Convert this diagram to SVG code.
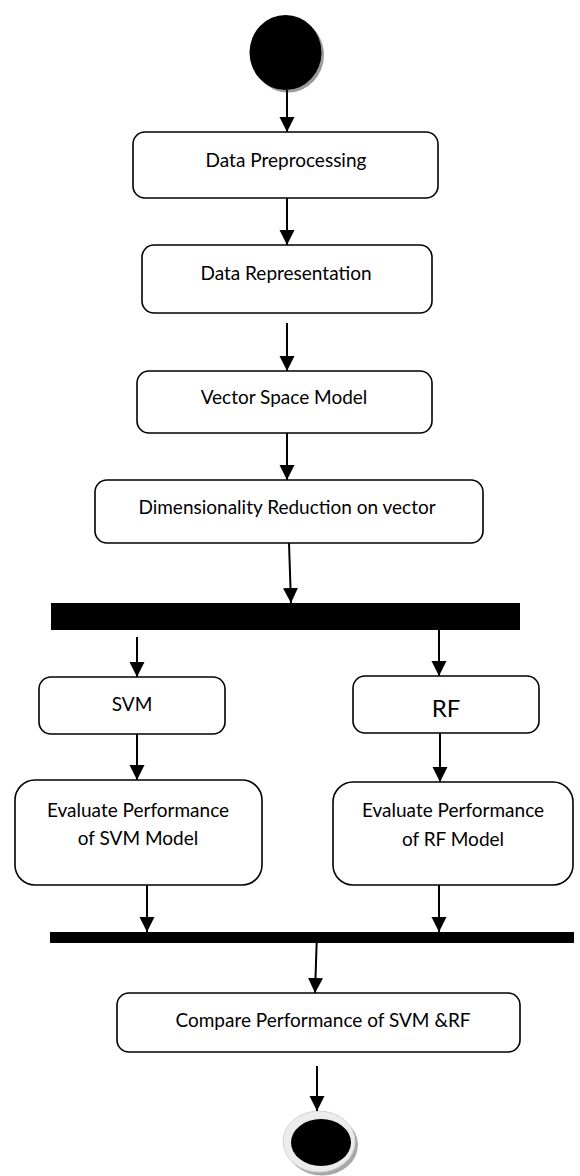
<svg xmlns="http://www.w3.org/2000/svg" width="580" height="1176" viewBox="0 0 580 1176">
  <style>
    .box { fill: #ffffff; stroke: #000000; stroke-width: 1.6; }
    .bar { fill: #000000; }
    .lbl { font-family: Lato, "Open Sans", "Liberation Sans", sans-serif; font-size: 19px; fill: #000000; text-anchor: middle; }
    .big { font-size: 24px; }
    .flow { stroke: #000000; stroke-width: 2; fill: none; marker-end: url(#arrow); }
  </style>
  <defs>
    <marker id="arrow" markerUnits="userSpaceOnUse" markerWidth="16" markerHeight="17" refX="15" refY="7.5" orient="auto">
      <path d="M0,0 L15,7.5 L0,15 Z" fill="#000000"/>
    </marker>
  </defs>

  <rect width="580" height="1176" fill="#ffffff"/>

  <!-- start node -->
  <g id="start">
    <ellipse cx="288" cy="55" rx="36" ry="37.5" fill="#9a9a9a"/>
    <ellipse cx="285.5" cy="52.5" rx="36" ry="37.5" fill="#000000"/>
  </g>

  <g id="preprocessing">
    <rect class="box" x="133" y="132" width="305" height="66" rx="12"/>
    <text class="lbl" x="286" y="167">Data Preprocessing</text>
  </g>

  <g id="representation">
    <rect class="box" x="142" y="245" width="290" height="68" rx="12"/>
    <text class="lbl" x="286" y="280">Data Representation</text>
  </g>

  <g id="vsm">
    <rect class="box" x="137" y="371" width="295" height="62" rx="12"/>
    <text class="lbl" x="284" y="404">Vector Space Model</text>
  </g>

  <g id="reduction">
    <rect class="box" x="95" y="480" width="388" height="63" rx="12"/>
    <text class="lbl" x="287" y="514">Dimensionality Reduction on vector</text>
  </g>

  <g id="fork">
    <rect class="bar" x="51" y="603" width="469" height="27"/>
  </g>

  <g id="svm">
    <rect class="box" x="39" y="677" width="186" height="57" rx="12"/>
    <text class="lbl" x="132" y="711">SVM</text>
  </g>

  <g id="rf">
    <rect class="box" x="353" y="676" width="186" height="57" rx="12"/>
    <text class="lbl big" x="446" y="717">RF</text>
  </g>

  <g id="eval-svm">
    <rect class="box" x="15" y="780" width="247" height="105" rx="20"/>
    <text class="lbl" x="138" y="817">Evaluate Performance</text>
    <text class="lbl" x="138" y="845">of SVM Model</text>
  </g>

  <g id="eval-rf">
    <rect class="box" x="333" y="782" width="240" height="103" rx="20"/>
    <text class="lbl" x="453" y="817">Evaluate Performance</text>
    <text class="lbl" x="453" y="846">of RF Model</text>
  </g>

  <g id="join">
    <rect class="bar" x="50" y="932" width="524" height="11"/>
  </g>

  <g id="compare">
    <rect class="box" x="117" y="993" width="403" height="59" rx="12"/>
    <text class="lbl" x="323" y="1027">Compare Performance of SVM &amp;RF</text>
  </g>

  <!-- end node -->
  <g id="end">
    <ellipse cx="322" cy="1145" rx="36" ry="30.5" fill="#a8a8a8"/>
    <ellipse cx="319" cy="1141.5" rx="36" ry="30.5" fill="#ececec" stroke="#d4d4d4" stroke-width="1"/>
    <ellipse cx="321" cy="1142.5" rx="30" ry="23.5" fill="#000000"/>
  </g>

  <g id="connectors">
    <line class="flow" x1="287" y1="90" x2="287" y2="132"/>
    <line class="flow" x1="287" y1="198" x2="287" y2="245"/>
    <line class="flow" x1="287" y1="323" x2="287" y2="371"/>
    <line class="flow" x1="287" y1="433" x2="287" y2="480"/>
    <line class="flow" x1="289" y1="543" x2="291" y2="603"/>
    <line class="flow" x1="137" y1="637" x2="137" y2="677"/>
    <line class="flow" x1="439" y1="630" x2="439" y2="676"/>
    <line class="flow" x1="137" y1="734" x2="137" y2="780"/>
    <line class="flow" x1="440" y1="733" x2="440" y2="782"/>
    <line class="flow" x1="147" y1="885" x2="147" y2="932"/>
    <line class="flow" x1="439" y1="885" x2="439" y2="932"/>
    <line class="flow" x1="317" y1="932" x2="315" y2="993"/>
    <line class="flow" x1="317" y1="1066" x2="317" y2="1111"/>
  </g>
</svg>
